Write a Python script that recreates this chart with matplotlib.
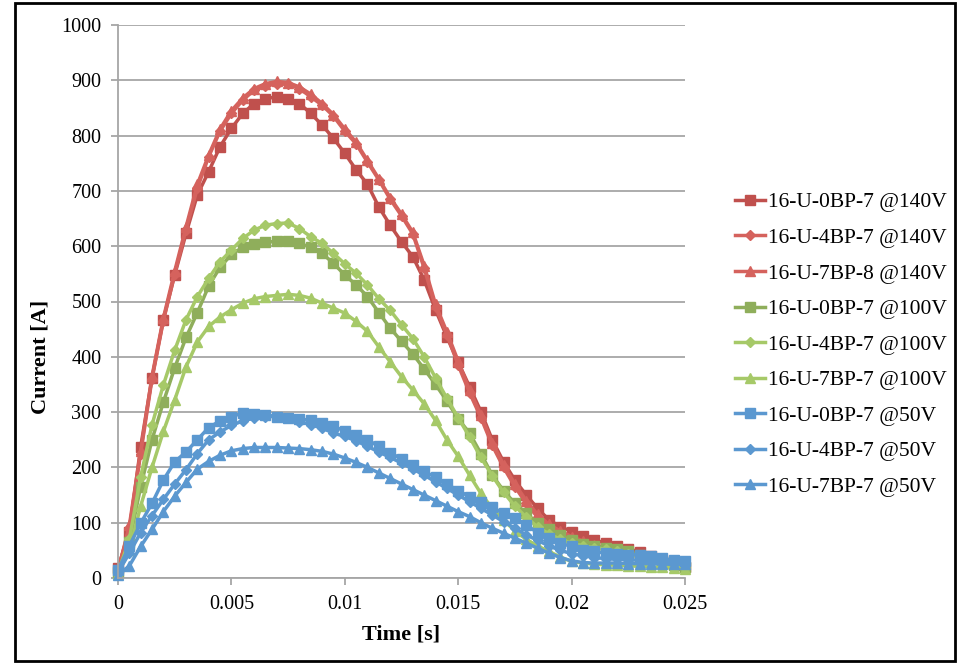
import numpy as np
import matplotlib
matplotlib.use("Agg")
import matplotlib.pyplot as plt
from matplotlib.patches import Rectangle

time_s = [i * 0.0005 for i in range(51)]

red_0bp = [18, 84, 237, 362, 467, 548, 623, 693, 735, 780, 813, 840, 858, 867, 870, 867, 858, 840, 819, 795,
           768, 738, 712, 671, 638, 608, 581, 539, 485, 436, 390, 346, 301, 250, 210, 177, 150, 126, 105, 93,
           84, 76, 69, 63, 58, 53, 47, 40, 33, 26, 20]
red_4bp = [15, 90, 225, 360, 465, 550, 630, 705, 762, 808, 840, 864, 882, 890, 893, 893, 885, 870, 855, 835,
           808, 785, 752, 720, 685, 655, 622, 560, 490, 440, 385, 335, 290, 240, 200, 165, 135, 110, 92, 80,
           70, 63, 57, 52, 47, 43, 38, 33, 28, 23, 18]
red_7bp = [12, 95, 230, 365, 470, 555, 635, 712, 765, 812, 845, 868, 885, 894, 898, 896, 888, 875, 858, 838,
           812, 788, 755, 722, 688, 658, 625, 565, 495, 445, 392, 340, 295, 245, 205, 170, 140, 115, 97, 85,
           75, 67, 60, 55, 50, 45, 40, 35, 30, 25, 20]
green_0bp = [10, 65, 165, 250, 318, 380, 435, 480, 528, 562, 585, 598, 604, 607, 609, 609, 605, 598, 587, 569,
             548, 530, 509, 480, 452, 428, 405, 378, 350, 320, 288, 262, 225, 186, 158, 135, 117, 99, 88, 78,
             68, 62, 58, 55, 52, 48, 42, 36, 30, 24, 20]
green_4bp = [10, 70, 183, 277, 349, 412, 467, 509, 542, 572, 593, 614, 629, 638, 641, 642, 632, 617, 605, 587,
             568, 551, 530, 505, 484, 458, 433, 400, 362, 325, 290, 255, 218, 185, 155, 130, 110, 92, 80, 70,
             63, 58, 55, 52, 48, 43, 38, 32, 27, 22, 18]
green_7bp = [8, 50, 130, 200, 265, 322, 382, 427, 455, 472, 485, 497, 505, 509, 511, 513, 511, 506, 497, 488,
             479, 464, 446, 418, 391, 364, 340, 315, 285, 250, 220, 186, 153, 126, 105, 85, 70, 58, 48, 38,
             30, 27, 25, 24, 23, 22, 21, 20, 19, 18, 17]
blue_0bp = [14, 58, 99, 135, 177, 210, 228, 250, 272, 284, 292, 298, 297, 295, 292, 290, 288, 285, 280, 274,
            266, 259, 250, 238, 226, 216, 204, 193, 182, 170, 158, 147, 138, 128, 117, 108, 96, 82, 72, 63,
            57, 51, 48, 45, 43, 42, 42, 40, 36, 32, 30]
blue_4bp = [10, 45, 82, 113, 142, 170, 196, 225, 250, 264, 276, 284, 289, 292, 292, 289, 283, 277, 271, 262,
            256, 248, 238, 228, 218, 208, 197, 186, 174, 162, 150, 138, 126, 114, 102, 90, 78, 68, 58, 50,
            44, 40, 37, 35, 34, 33, 32, 31, 30, 30, 30]
blue_7bp = [5, 22, 57, 88, 120, 148, 173, 197, 211, 222, 230, 234, 236, 236, 236, 235, 234, 232, 229, 224,
            217, 209, 200, 190, 180, 170, 160, 150, 140, 130, 120, 111, 100, 90, 81, 72, 63, 54, 45, 37,
            31, 28, 27, 27, 27, 26, 26, 26, 25, 25, 25]

labels = ["16-U-0BP-7 @140V", "16-U-4BP-7 @140V", "16-U-7BP-8 @140V",
          "16-U-0BP-7 @100V", "16-U-4BP-7 @100V", "16-U-7BP-7 @100V",
          "16-U-0BP-7 @50V", "16-U-4BP-7 @50V", "16-U-7BP-7 @50V"]
series = [red_0bp, red_4bp, red_7bp, green_0bp, green_4bp, green_7bp, blue_0bp, blue_4bp, blue_7bp]
colors = ["#C0504D", "#D5625D", "#D5625D",
          "#8FAE5B", "#A6C968", "#A6C968",
          "#5B98D0", "#5B98D0", "#5B98D0"]
markers = ["s", "D", "^", "s", "D", "^", "s", "D", "^"]
msizes = [7.2, 5.5, 7.2, 7.2, 5.5, 7.2, 7.2, 5.5, 7.2]

plt.rcParams['font.family'] = ['Liberation Serif', 'DejaVu Serif']

fig = plt.figure(figsize=(9.6, 6.63), dpi=100)
ax = fig.add_axes([118/960, 1-578/663, (685-118)/960, (578-25)/663])

for y, lab, c, m, ms in zip(series, labels, colors, markers, msizes):
    ax.plot(time_s, y, color=c, marker=m, markersize=ms, linewidth=2.5, label=lab,
            markeredgecolor=c, markerfacecolor=c, clip_on=False)

ax.set_xlim(0, 0.025)
ax.set_ylim(0, 1000)
ax.set_xticks([0, 0.005, 0.01, 0.015, 0.02, 0.025])
ax.set_xticklabels(["0", "0.005", "0.01", "0.015", "0.02", "0.025"])
ax.set_yticks(range(0, 1001, 100))
ax.yaxis.grid(True, color="#A6A6A6", linewidth=1.3)
ax.set_axisbelow(True)
for s in ["top", "right"]:
    ax.spines[s].set_visible(False)
for s in ["left", "bottom"]:
    ax.spines[s].set_color("#A6A6A6")
    ax.spines[s].set_linewidth(1.3)
ax.tick_params(axis="both", colors="#A6A6A6", labelcolor="black", labelsize=14.5,
               length=5, width=1.3)
ax.tick_params(axis="x", pad=7)
ax.tick_params(axis="y", pad=7)
ax.set_xlabel("Time [s]", fontsize=16, fontweight="bold", labelpad=8)
ax.set_ylabel("Current [A]", fontsize=16, fontweight="bold")
ax.yaxis.set_label_coords(-68/567, 0.40)

leg = ax.legend(loc="center left", bbox_to_anchor=(1.073, 0.422), frameon=False,
                fontsize=15.5, handlelength=1.4, handletextpad=0.12, labelspacing=0.72,
                numpoints=1, borderaxespad=0)

fig.patches.append(Rectangle((15/960, 1-661/663), (955-15)/960, (661-3)/663,
                             transform=fig.transFigure, fill=False,
                             edgecolor="black", linewidth=2))

fig.savefig("out.png", dpi=100)
